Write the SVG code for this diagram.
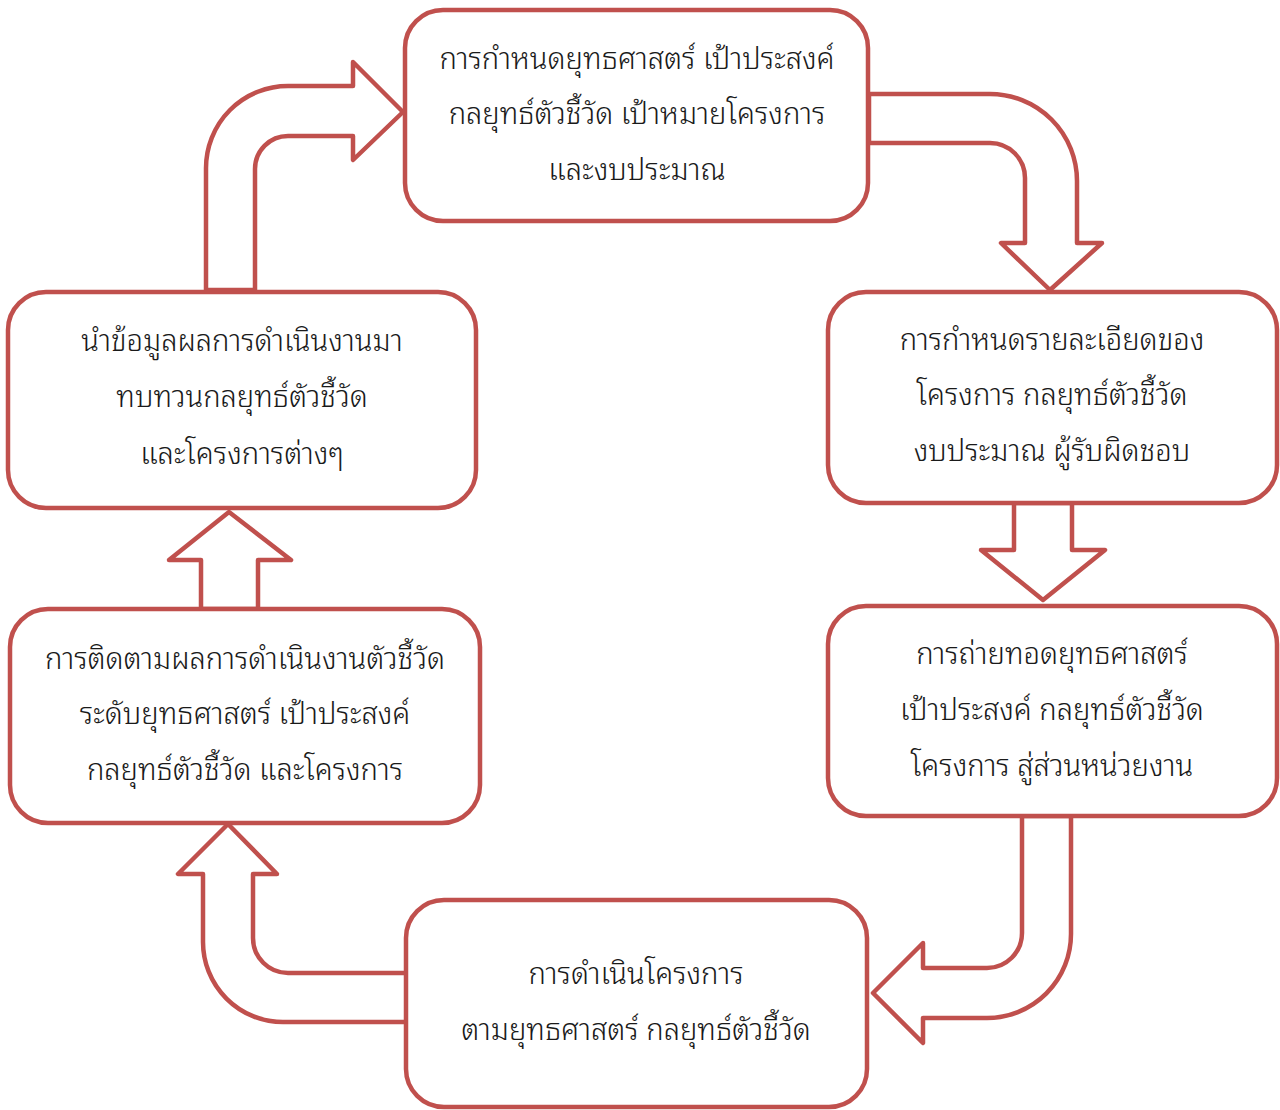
<svg xmlns="http://www.w3.org/2000/svg" width="1280" height="1110" viewBox="0 0 1280 1110">
<style>
.box{fill:#ffffff;stroke:#C0504D;stroke-width:4.5}
.arr{fill:#ffffff;stroke:#C0504D;stroke-width:4.5;stroke-linejoin:round}
.t{font-family:"Noto Sans Thai Looped","Noto Sans Thai","Noto Sans","DejaVu Sans",sans-serif;font-size:29.2px;font-weight:300;fill:#1a1a1a;text-anchor:middle}
</style>
<rect width="1280" height="1110" fill="#ffffff"/>
<g id="connectors">
<path class="arr" d="M 206 290 L 206 168 A 82 82 0 0 1 288 86 L 353 86 L 353 62 L 403 112 L 353 160 L 353 136 L 288 136 A 33 33 0 0 0 255 169 L 255 290 Z"/>
<path class="arr" d="M 869 94 L 990 94 A 87 87 0 0 1 1077 181 L 1077 243 L 1102 243 L 1050 290 L 1001 243 L 1025 243 L 1025 178 A 35 35 0 0 0 990 143 L 869 143 Z"/>
<path class="arr" d="M 1014 503 L 1014 550 L 981 550 L 1043 600 L 1105 550 L 1072 550 L 1072 503 Z"/>
<path class="arr" d="M 1022 816 L 1022 933 A 35 35 0 0 1 987 968 L 923 968 L 923 943 L 873 993 L 923 1043 L 923 1018 L 987 1018 A 84 84 0 0 0 1071 934 L 1071 816 Z"/>
<path class="arr" d="M 407 973 L 288 973 A 35 35 0 0 1 253 938 L 253 874 L 277 874 L 228 824 L 178 874 L 203 874 L 203 942 A 80 80 0 0 0 283 1022 L 407 1022 Z"/>
<path class="arr" d="M 201 609 L 201 560 L 169 560 L 229 512 L 291 560 L 258 560 L 258 609 Z"/>
</g>
<g id="n1">
<rect class="box" x="405" y="10" width="463" height="211" rx="38"/>
<text class="t" x="637" y="69">การกำหนดยุทธศาสตร์ เป้าประสงค์</text>
<text class="t" x="637" y="124">กลยุทธ์ตัวชี้วัด เป้าหมายโครงการ</text>
<text class="t" x="637" y="180">และงบประมาณ</text>
</g>
<g id="n2">
<rect class="box" x="828" y="292" width="449" height="211" rx="38"/>
<text class="t" x="1052" y="350">การกำหนดรายละเอียดของ</text>
<text class="t" x="1052" y="405">โครงการ กลยุทธ์ตัวชี้วัด</text>
<text class="t" x="1052" y="461">งบประมาณ ผู้รับผิดชอบ</text>
</g>
<g id="n3">
<rect class="box" x="828" y="606" width="449" height="210" rx="38"/>
<text class="t" x="1052" y="664">การถ่ายทอดยุทธศาสตร์</text>
<text class="t" x="1052" y="720">เป้าประสงค์ กลยุทธ์ตัวชี้วัด</text>
<text class="t" x="1052" y="776">โครงการ สู่ส่วนหน่วยงาน</text>
</g>
<g id="n4">
<rect class="box" x="406" y="900" width="461" height="207" rx="38"/>
<text class="t" x="636" y="984">การดำเนินโครงการ</text>
<text class="t" x="636" y="1040">ตามยุทธศาสตร์ กลยุทธ์ตัวชี้วัด</text>
</g>
<g id="n5">
<rect class="box" x="10" y="609" width="470" height="214" rx="38"/>
<text class="t" x="245" y="669">การติดตามผลการดำเนินงานตัวชี้วัด</text>
<text class="t" x="245" y="724">ระดับยุทธศาสตร์ เป้าประสงค์</text>
<text class="t" x="245" y="780">กลยุทธ์ตัวชี้วัด และโครงการ</text>
</g>
<g id="n6">
<rect class="box" x="8" y="292" width="468" height="216" rx="38"/>
<text class="t" x="242" y="351">นำข้อมูลผลการดำเนินงานมา</text>
<text class="t" x="242" y="407">ทบทวนกลยุทธ์ตัวชี้วัด</text>
<text class="t" x="242" y="464">และโครงการต่างๆ</text>
</g>
</svg>
